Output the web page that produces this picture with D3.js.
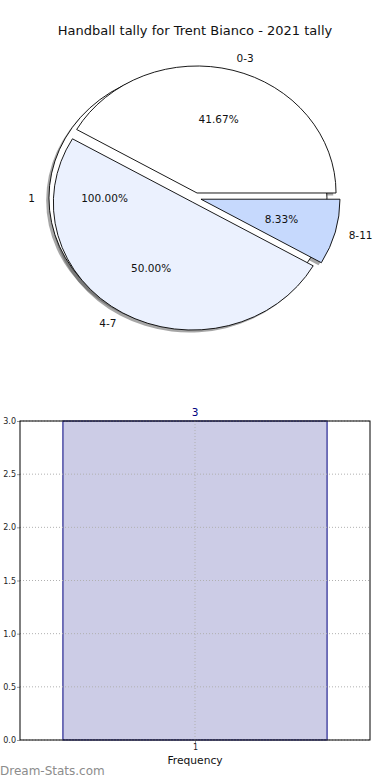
<!DOCTYPE html>
<html>
<head>
<meta charset="utf-8">
<script src="https://cdn.jsdelivr.net/npm/d3@7"></script>
<style>
  body { margin: 0; background: #fff; }
  svg { display: block; font-family: "DejaVu Sans", sans-serif; }
</style>
</head>
<body>
<svg width="390" height="780"></svg>
<script>
// data
var title = "Handball tally for Trent Bianco - 2021 tally";
var pie_labels = ["0-3", "4-7", "8-11"];
var pie_values = [5, 6, 1];
var back_labels = ["1"];
var back_values = [1];
var bar_categories = ["1"];
var bar_values = [3];
var y_ticks = [0, 0.5, 1, 1.5, 2, 2.5, 3];

var pie_colors = ["#ffffff", "#ebf1fe", "#c6d9fd"];
var svg = d3.select("svg");

// pie geometry (matplotlib style: angle 0 east, counter clockwise)
var cx = 195.6, cy = 197.9, rx = 139, ry = 127;
var explode = 0.04, back_explode = 0.055;

svg.append("text")
    .attr("x", 195).attr("y", 35)
    .attr("text-anchor", "middle")
    .attr("font-size", 13)
    .attr("fill", "#111")
    .text(title);

function build_slices(values, labels) {
    var total = d3.sum(values);
    var a = 0, out = [];
    values.forEach(function (v, i) {
        var b = a + v / total * 2 * Math.PI;
        out.push({ a0: a, a1: b, mid: (a + b) / 2, label: labels[i], pct: v / total * 100, i: i });
        a = b;
    });
    return out;
}

var arc = d3.arc().innerRadius(0).outerRadius(1)
    .startAngle(function (d) { return Math.PI / 2 - d.a1; })
    .endAngle(function (d) { return Math.PI / 2 - d.a0; });

var back = build_slices(back_values, back_labels);
var front = build_slices(pie_values, pie_labels);

function center(d, ex) {
    return [cx + ex * rx * Math.cos(d.mid), cy - ex * ry * Math.sin(d.mid)];
}

var pg = svg.append("g");

function draw_wedges(data, ex, colors, shadow) {
    pg.selectAll(null).data(data).enter().append("path")
        .attr("transform", function (d) {
            var c = center(d, ex);
            if (shadow) { c = [c[0] - 0.02 * rx, c[1] + 0.02 * ry]; }
            return "translate(" + c[0] + "," + c[1] + ") scale(" + rx + "," + ry + ")";
        })
        .attr("d", arc)
        .attr("vector-effect", "non-scaling-stroke")
        .attr("fill", shadow ? "#4d4d4d" : function (d) { return colors[d.i]; })
        .attr("fill-opacity", shadow ? 0.5 : 1)
        .attr("stroke", shadow ? "none" : "#000")
        .attr("stroke-width", 0.9);
}

draw_wedges(back, back_explode, ["#ffffff"], true);
draw_wedges(front, explode, pie_colors, true);
draw_wedges(back, back_explode, ["#ffffff"], false);
draw_wedges(front, explode, pie_colors, false);

function draw_texts(data, ex) {
    data.forEach(function (d) {
        var c = center(d, ex);
        var lx = c[0] + 1.1 * rx * Math.cos(d.mid), ly = c[1] - 1.1 * ry * Math.sin(d.mid);
        pg.append("text")
            .attr("x", lx).attr("y", ly)
            .attr("dy", "0.35em")
            .attr("text-anchor", Math.cos(d.mid) > 0 ? "start" : "end")
            .attr("font-size", 10.5).attr("fill", "#111")
            .text(d.label);
        pg.append("text")
            .attr("x", c[0] + 0.6 * rx * Math.cos(d.mid))
            .attr("y", c[1] - 0.6 * ry * Math.sin(d.mid))
            .attr("dy", "0.35em")
            .attr("text-anchor", "middle")
            .attr("font-size", 10.5).attr("fill", "#111")
            .text(d.pct.toFixed(2) + "%");
    });
}
draw_texts(back, back_explode);
draw_texts(front, explode);

// bar chart
var bx0 = 20, bx1 = 370, by0 = 421, by1 = 740;
var xscale = d3.scaleLinear().domain([0.47, 1.53]).range([bx0, bx1]);
var yscale = d3.scaleLinear().domain([0, 3]).range([by1, by0]);

var bg = svg.append("g");
bg.selectAll(null).data(bar_values).enter().append("rect")
    .attr("x", function (d, i) { return xscale(+bar_categories[i] - 0.4); })
    .attr("y", function (d) { return yscale(d); })
    .attr("width", xscale(1.4) - xscale(0.6))
    .attr("height", function (d) { return yscale(0) - yscale(d); })
    .attr("fill", "#cccce6")
    .attr("stroke", "#000080")
    .attr("stroke-width", 1);

// grid
bg.selectAll(null).data(y_ticks).enter().append("line")
    .attr("x1", bx0).attr("x2", bx1)
    .attr("y1", function (d) { return yscale(d); })
    .attr("y2", function (d) { return yscale(d); })
    .attr("stroke", "#b0b0b0").attr("stroke-dasharray", "1,2");
bg.selectAll(null).data(bar_categories).enter().append("line")
    .attr("x1", function (d) { return xscale(+d); })
    .attr("x2", function (d) { return xscale(+d); })
    .attr("y1", by0).attr("y2", by1)
    .attr("stroke", "#b0b0b0").attr("stroke-dasharray", "1,2");

// value labels
bg.selectAll(null).data(bar_values).enter().append("text")
    .attr("x", function (d, i) { return xscale(+bar_categories[i]); })
    .attr("y", function (d) { return yscale(d) - 5; })
    .attr("text-anchor", "middle")
    .attr("font-size", 10.5).attr("fill", "#000080")
    .text(function (d) { return d; });

// axes
var yAxis = d3.axisLeft(yscale).tickValues(y_ticks).tickSize(3).tickPadding(1)
    .tickFormat(d3.format(".1f"));
var ya = bg.append("g").attr("transform", "translate(" + bx0 + ",0)").call(yAxis);
ya.select(".domain").remove();
ya.selectAll("text").attr("font-size", 8).attr("fill", "#222").attr("font-family", "DejaVu Sans");
ya.selectAll("line").attr("stroke", "#999");

var xAxis = d3.axisBottom(xscale).tickValues(bar_categories.map(Number)).tickSize(3).tickPadding(1)
    .tickFormat(d3.format("d"));
var xa = bg.append("g").attr("transform", "translate(0," + by1 + ")").call(xAxis);
xa.select(".domain").remove();
xa.selectAll("text").attr("font-size", 8).attr("fill", "#222").attr("font-family", "DejaVu Sans");
xa.selectAll("line").attr("stroke", "#999");

bg.append("rect")
    .attr("x", bx0).attr("y", by0)
    .attr("width", bx1 - bx0).attr("height", by1 - by0)
    .attr("fill", "none").attr("stroke", "#000").attr("stroke-width", 1);

bg.append("text")
    .attr("x", (bx0 + bx1) / 2).attr("y", 764)
    .attr("text-anchor", "middle")
    .attr("font-size", 10.7).attr("fill", "#111")
    .text("Frequency");

svg.append("text")
    .attr("x", 0).attr("y", 775)
    .attr("font-size", 12).attr("fill", "#8c8c8c")
    .text("Dream-Stats.com");
</script>
</body>
</html>
